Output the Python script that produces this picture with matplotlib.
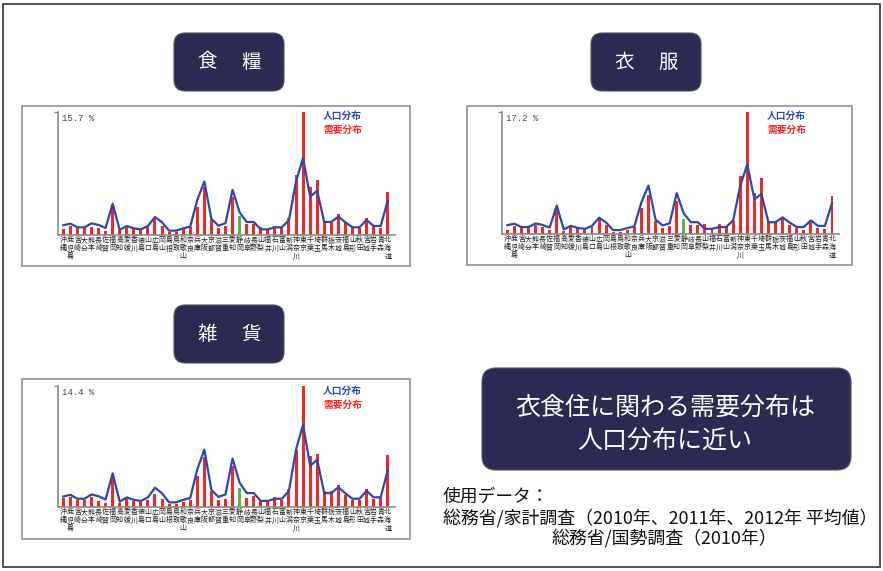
import matplotlib
matplotlib.use('Agg')
import matplotlib.pyplot as plt
from matplotlib.patches import FancyBboxPatch, Rectangle
import matplotlib.transforms as mtransforms

plt.rcParams['font.family'] = ['Noto Sans CJK JP', 'DejaVu Sans']

prefectures = ['沖縄', '鹿児島', '宮崎', '大分', '熊本', '長崎', '佐賀', '福岡', '高知', '愛媛',
               '香川', '徳島', '山口', '広島', '岡山', '島根', '鳥取', '和歌山', '奈良', '兵庫',
               '大阪', '京都', '滋賀', '三重', '愛知', '静岡', '岐阜', '長野', '山梨', '福井',
               '石川', '富山', '新潟', '神奈川', '東京', '千葉', '埼玉', '群馬', '栃木', '茨城',
               '福島', '山形', '秋田', '宮城', '岩手', '青森', '北海道']

population = [1.24, 1.45, 0.98, 0.98, 1.49, 1.28, 0.90, 4.00, 0.64, 1.15,
              0.85, 0.72, 1.15, 2.30, 1.62, 0.55, 0.55, 0.85, 1.07, 4.48,
              6.83, 2.05, 1.20, 1.50, 5.76, 2.90, 1.66, 1.66, 0.72, 0.72,
              0.98, 0.98, 1.92, 6.83, 9.81, 4.90, 5.63, 1.66, 1.66, 2.35,
              1.62, 0.98, 0.98, 1.92, 1.15, 1.15, 4.35]

food_demand = [0.73, 1.15, 0.94, 0.94, 1.07, 0.94, 0.55, 3.41, 0.64, 1.07,
               0.85, 0.72, 0.98, 2.05, 1.15, 0.43, 0.43, 0.72, 1.07, 3.63,
               6.10, 2.00, 0.94, 1.15, 4.90, 2.43, 1.37, 1.37, 1.07, 0.64,
               1.20, 1.07, 2.13, 7.68, 15.7, 6.19, 7.04, 1.79, 1.79, 2.65,
               1.58, 1.07, 0.94, 2.13, 1.07, 0.94, 5.55]

clothing_demand = [0.61, 1.17, 0.85, 0.85, 1.27, 0.94, 0.61, 3.43, 0.47, 0.94,
                   0.85, 0.61, 0.94, 2.16, 1.27, 0.28, 0.28, 0.61, 0.94, 3.62,
                   5.55, 1.88, 0.85, 1.08, 4.70, 2.11, 1.32, 1.22, 1.41, 0.61,
                   1.41, 1.17, 1.79, 8.22, 17.2, 5.78, 7.90, 1.64, 1.64, 2.11,
                   1.32, 0.85, 0.61, 1.64, 0.85, 0.70, 5.40]

goods_demand = [1.07, 1.15, 0.79, 0.79, 1.15, 0.75, 0.47, 3.44, 0.47, 0.95,
                0.67, 0.55, 0.87, 1.58, 0.99, 0.40, 0.40, 0.59, 0.87, 3.72,
                5.93, 1.86, 0.79, 0.99, 4.83, 2.25, 1.07, 1.27, 0.79, 0.55,
                1.19, 0.79, 2.18, 6.80, 14.4, 6.01, 6.33, 1.86, 1.86, 2.65,
                1.38, 0.87, 0.79, 2.18, 0.99, 1.07, 6.21]

max_labels = ['15.7 %', '17.2 %', '14.4 %']
chart_titles = [('食', '糧'), ('衣', '服'), ('雑', '貨')]
legend_labels = ['人口分布', '需要分布']
highlight = '静岡'
message_lines = ['衣食住に関わる需要分布は', '人口分布に近い']
source_lines = ['使用データ：',
                '総務省/家計調査（2010年、2011年、2012年 平均値）',
                '総務省/国勢調査（2010年）']

W, H = 883, 571
NAVY = '#2b2a52'
RED = '#f02828'
GREEN = '#55bb44'
BLUE = '#2a48b0'

fig = plt.figure(figsize=(W / 100, H / 100), dpi=100)
bg = fig.add_axes([0, 0, 1, 1], zorder=0)
bg.set_xlim(0, W)
bg.set_ylim(H, 0)
bg.axis('off')

# outer border
bg.add_patch(Rectangle((3, 4), 877, 563, fill=False, ec='#333333', lw=1.2))


def title_box(x0, y0, x1, y1, chars, cx):
    bg.add_patch(FancyBboxPatch((x0, y0), x1 - x0, y1 - y0,
                                boxstyle='round,pad=0,rounding_size=11',
                                fc=NAVY, ec='#555555', lw=0.8))
    cy = (y0 + y1) / 2
    bg.text(cx - 22, cy, chars[0], color='white', fontsize=14,
            ha='center', va='center')
    bg.text(cx + 22, cy, chars[1], color='white', fontsize=14,
            ha='center', va='center')


def chart(panel, axbox, first_x, last_x, demand, label, legend_xy):
    px0, py0, px1, py1 = panel
    bg.add_patch(Rectangle((px0, py0), px1 - px0, py1 - py0, fill=False,
                           ec='#9a9a9a', lw=1.3))
    x0, y0, x1, y1 = axbox
    ax = fig.add_axes([x0 / W, 1 - y1 / H, (x1 - x0) / W, (y1 - y0) / H], zorder=2)
    ax.set_facecolor('none')
    n = len(prefectures)
    sp = (last_x - first_x) / (n - 1)
    ax.set_xlim(-(first_x - x0) / sp, (n - 1) + (x1 - last_x) / sp)
    ymax = max(demand)
    ax.set_ylim(0, ymax)
    xs = list(range(n))
    colors = [GREEN if p == highlight else RED for p in prefectures]
    ax.bar(xs, demand, width=0.42, color=colors, zorder=2)
    ax.plot(xs, population, color=BLUE, lw=1.6, zorder=3)
    for s in ['top', 'right']:
        ax.spines[s].set_visible(False)
    for s in ['left', 'bottom']:
        ax.spines[s].set_color('#8a8a8a')
        ax.spines[s].set_linewidth(1.2)
    ax.set_xticks([])
    ax.set_yticks([ymax])
    ax.tick_params(axis='y', length=3, width=1, color='#8a8a8a', labelleft=False)
    trans = mtransforms.blended_transform_factory(ax.transData, ax.transAxes)
    for i, p in enumerate(prefectures):
        ax.text(i, -0.012, '\n'.join(p), transform=trans, ha='center', va='top',
                fontsize=5, linespacing=1.0, color='#222222', clip_on=False)
    ax.text(0.012, 0.985, label, transform=ax.transAxes, fontsize=6.5,
            family='Liberation Mono', va='top', ha='left', color='#444444')
    lx, ly = legend_xy
    bg.text(lx, ly, legend_labels[0], color=BLUE, fontsize=7, weight='bold',
            va='center', ha='left')
    bg.text(lx, ly + 14, legend_labels[1], color=RED, fontsize=7, weight='bold',
            va='center', ha='left')


title_box(174, 33, 284, 91, chart_titles[0], 229)
title_box(591, 33, 701, 91, chart_titles[1], 646)
title_box(174, 305, 284, 363, chart_titles[2], 229)

chart((22, 106, 410, 266), (58, 112, 395, 235), 63.3, 387.7,
      food_demand, max_labels[0], (323, 116))
chart((467, 106, 852, 265), (502, 112, 839, 234), 507.3, 832.0,
      clothing_demand, max_labels[1], (767, 116))
chart((22, 379, 410, 539), (58, 386, 395, 507), 63.3, 387.7,
      goods_demand, max_labels[2], (323, 391))

# message box
bg.add_patch(FancyBboxPatch((482, 368), 369, 102,
                            boxstyle='round,pad=0,rounding_size=14',
                            fc=NAVY, ec='#555555', lw=0.8))
bg.text(665, 408, message_lines[0], color='white', fontsize=18,
        ha='center', va='center')
bg.text(665, 442, message_lines[1], color='white', fontsize=18,
        ha='center', va='center')

bg.text(443, 497, source_lines[0], fontsize=12.8, ha='left', va='center',
        color='#111111')
bg.text(443, 518, source_lines[1], fontsize=12.9, ha='left', va='center',
        color='#111111')
bg.text(664, 538, source_lines[2], fontsize=12.9, ha='center', va='center',
        color='#111111')

fig.savefig('out.png', dpi=100)
